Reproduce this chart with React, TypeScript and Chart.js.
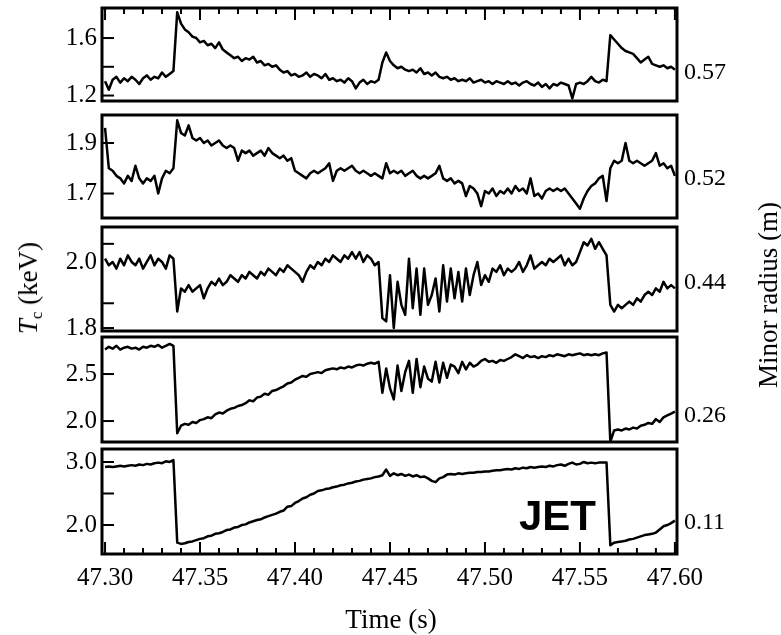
import React, { useEffect, useRef } from "react";
import { Chart, registerables } from "chart.js";

Chart.register(...registerables);

// Sample times (s), 2 ms spacing from 47.300 to 47.600
const TIME_S: number[] = Array.from({ length: 151 }, (_, i) => (47300 + i * 2) / 1000);

// Electron temperature (keV) at each minor radius
const TE_R057 = [
  1.30, 1.24, 1.31, 1.33, 1.29, 1.32, 1.30, 1.33, 1.31, 1.28,
  1.32, 1.34, 1.31, 1.33, 1.32, 1.36, 1.33, 1.35, 1.37, 1.78,
  1.70, 1.66, 1.64, 1.61, 1.60, 1.57, 1.58, 1.55, 1.56, 1.53,
  1.57, 1.52, 1.50, 1.48, 1.46, 1.47, 1.44, 1.46, 1.45, 1.47,
  1.43, 1.44, 1.41, 1.42, 1.40, 1.41, 1.38, 1.36, 1.37, 1.34,
  1.35, 1.33, 1.34, 1.36, 1.33, 1.35, 1.34, 1.32, 1.35, 1.31,
  1.32, 1.30, 1.31, 1.29, 1.32, 1.30, 1.25, 1.29, 1.31, 1.28,
  1.30, 1.29, 1.31, 1.43, 1.50, 1.44, 1.41, 1.39, 1.40, 1.38,
  1.37, 1.38, 1.36, 1.39, 1.35, 1.36, 1.34, 1.36, 1.33, 1.32,
  1.33, 1.31, 1.32, 1.30, 1.31, 1.30, 1.32, 1.29, 1.30, 1.31,
  1.29, 1.30, 1.28, 1.30, 1.29, 1.28, 1.30, 1.28, 1.29, 1.27,
  1.29, 1.30, 1.28, 1.27, 1.29, 1.26, 1.28, 1.25, 1.28, 1.27,
  1.29, 1.28, 1.27, 1.18, 1.28, 1.29, 1.28, 1.30, 1.33, 1.30,
  1.29, 1.31, 1.30, 1.62, 1.59, 1.56, 1.53, 1.51, 1.50, 1.49,
  1.46, 1.43, 1.45, 1.47, 1.42, 1.41, 1.40, 1.41, 1.39, 1.40,
  1.38,
];

const TE_R052 = [
  1.96, 1.80, 1.79, 1.77, 1.76, 1.74, 1.77, 1.75, 1.81, 1.76,
  1.74, 1.76, 1.75, 1.77, 1.70, 1.76, 1.79, 1.78, 1.80, 1.99,
  1.94, 1.93, 1.97, 1.92, 1.91, 1.92, 1.90, 1.91, 1.89, 1.90,
  1.91, 1.89, 1.88, 1.89, 1.88, 1.83, 1.87, 1.86, 1.87, 1.85,
  1.86, 1.87, 1.85, 1.88, 1.86, 1.85, 1.84, 1.85, 1.83, 1.84,
  1.79, 1.78, 1.77, 1.76, 1.78, 1.79, 1.78, 1.79, 1.80, 1.82,
  1.75, 1.79, 1.80, 1.79, 1.80, 1.81, 1.79, 1.78, 1.79, 1.78,
  1.77, 1.78, 1.77, 1.76, 1.82, 1.78, 1.79, 1.78, 1.79, 1.77,
  1.78, 1.79, 1.77, 1.76, 1.77, 1.76, 1.77, 1.78, 1.81, 1.76,
  1.75, 1.76, 1.74, 1.75, 1.74, 1.69, 1.73, 1.72, 1.70, 1.65,
  1.71, 1.70, 1.72, 1.69, 1.71, 1.70, 1.72, 1.70, 1.73, 1.71,
  1.72, 1.70, 1.76, 1.69, 1.70, 1.68, 1.71, 1.72, 1.71, 1.72,
  1.71, 1.72, 1.70, 1.68, 1.66, 1.64, 1.68, 1.71, 1.73, 1.74,
  1.76, 1.77, 1.67, 1.80, 1.83, 1.82, 1.83, 1.90, 1.83, 1.82,
  1.83, 1.82, 1.81, 1.82, 1.83, 1.86, 1.81, 1.82, 1.80, 1.81,
  1.77,
];

const TE_R044 = [
  2.01, 1.99, 2.00, 1.98, 2.01, 1.99, 2.02, 2.00, 1.99, 2.01,
  1.98, 2.00, 2.02, 1.99, 2.01, 2.00, 1.98, 2.02, 2.01, 1.85,
  1.92, 1.91, 1.93, 1.91, 1.92, 1.93, 1.89, 1.92, 1.94, 1.93,
  1.95, 1.93, 1.94, 1.96, 1.95, 1.94, 1.96, 1.95, 1.97, 1.96,
  1.95, 1.97, 1.96, 1.98, 1.97, 1.96, 1.98, 1.97, 1.99, 1.98,
  1.97, 1.96, 1.94, 1.97, 1.99, 1.98, 2.00, 1.99, 2.01, 2.00,
  2.02, 2.01, 2.00, 2.02, 2.01, 2.03, 2.01, 2.03, 2.00, 2.02,
  2.01, 1.99, 2.00, 1.83, 1.82, 1.96, 1.80, 1.94, 1.87, 1.84,
  2.01, 1.86, 1.98, 1.84, 1.98, 1.87, 1.90, 1.95, 1.85, 1.99,
  1.88, 1.98, 1.89, 1.97, 1.88, 1.98, 1.90, 1.96, 2.00, 1.93,
  1.96, 1.94, 1.98, 1.97, 1.99, 1.96, 1.98, 1.97, 1.98, 2.00,
  1.97, 1.99, 2.02, 1.98, 1.99, 2.00, 1.99, 2.01, 2.00, 2.01,
  2.02, 1.99, 2.01, 1.99, 2.00, 2.03, 2.06, 2.05, 2.07, 2.04,
  2.06, 2.04, 2.02, 1.87, 1.85, 1.87, 1.86, 1.87, 1.88, 1.87,
  1.89, 1.88, 1.90, 1.91, 1.90, 1.92, 1.91, 1.94, 1.92, 1.93,
  1.92,
];

const TE_R026 = [
  2.76, 2.79, 2.77, 2.80, 2.76, 2.78, 2.79, 2.77, 2.78, 2.76,
  2.79, 2.78, 2.80, 2.79, 2.81, 2.78, 2.80, 2.82, 2.80, 1.87,
  1.95, 1.97, 1.96, 1.99, 1.98, 2.01, 2.02, 2.04, 2.03, 2.07,
  2.09, 2.08, 2.11, 2.13, 2.14, 2.16, 2.17, 2.19, 2.22, 2.21,
  2.25, 2.26, 2.29, 2.28, 2.32, 2.33, 2.35, 2.37, 2.40, 2.41,
  2.44, 2.46, 2.48, 2.47, 2.50, 2.51, 2.52, 2.51, 2.54, 2.55,
  2.56, 2.55, 2.57, 2.56, 2.58, 2.57, 2.59, 2.60, 2.59, 2.61,
  2.62, 2.61, 2.63, 2.30, 2.56, 2.35, 2.23, 2.59, 2.32, 2.52,
  2.64, 2.30, 2.66, 2.36, 2.58, 2.45, 2.42, 2.63, 2.41, 2.62,
  2.46, 2.60, 2.58, 2.51, 2.63, 2.55, 2.62, 2.58, 2.60, 2.64,
  2.66, 2.63, 2.64, 2.62, 2.65, 2.64, 2.66, 2.68, 2.71, 2.69,
  2.67, 2.70, 2.68, 2.69, 2.67, 2.69, 2.68, 2.70, 2.69, 2.71,
  2.70, 2.69, 2.71, 2.70, 2.71, 2.72, 2.70, 2.71, 2.70, 2.71,
  2.70, 2.72, 2.73, 1.78, 1.90, 1.91, 1.90, 1.92, 1.91, 1.93,
  1.92, 1.95, 1.96, 1.98, 1.97, 2.02, 1.99, 2.04, 2.06, 2.08,
  2.10,
];

const TE_R011 = [
  2.92, 2.93, 2.92, 2.93, 2.94, 2.93, 2.94, 2.95, 2.94, 2.96,
  2.95, 2.97, 2.96, 2.98, 2.99, 2.98, 3.01, 3.00, 3.03, 1.72,
  1.70, 1.71, 1.73, 1.74, 1.76, 1.78, 1.79, 1.82, 1.83, 1.86,
  1.87, 1.89, 1.92, 1.93, 1.96, 1.97, 2.00, 2.01, 2.04, 2.06,
  2.08, 2.09, 2.12, 2.14, 2.16, 2.18, 2.21, 2.23, 2.29, 2.30,
  2.35, 2.38, 2.42, 2.44, 2.48, 2.50, 2.54, 2.55, 2.57, 2.58,
  2.60, 2.61, 2.63, 2.64, 2.66, 2.67, 2.69, 2.70, 2.72, 2.73,
  2.74, 2.76, 2.77, 2.79, 2.88, 2.78, 2.82, 2.79, 2.81, 2.78,
  2.80, 2.77, 2.79, 2.76, 2.77, 2.74, 2.70, 2.68, 2.74, 2.76,
  2.80, 2.81, 2.80, 2.82, 2.81, 2.82, 2.83, 2.83, 2.84, 2.84,
  2.85, 2.85, 2.86, 2.87, 2.87, 2.88, 2.89, 2.88, 2.90, 2.89,
  2.91, 2.90, 2.92, 2.91, 2.92, 2.93, 2.92, 2.94, 2.93, 2.95,
  2.96, 2.94, 2.97, 2.99, 2.96, 2.97, 3.00, 2.98, 2.99, 2.98,
  2.99, 2.99, 2.99, 1.68, 1.72, 1.73, 1.74, 1.75, 1.77, 1.78,
  1.80, 1.82, 1.84, 1.85, 1.86, 1.88, 1.93, 1.98, 2.00, 2.03,
  2.07,
];

const RADIUS_LABELS = ["0.57", "0.52", "0.44", "0.26", "0.11"];
const TIME_TICKS = [47.3, 47.35, 47.4, 47.45, 47.5, 47.55, 47.6];
const Y_TICKS_R057 = [1.2, 1.6];
const Y_MARKS_R057 = [1.2, 1.4, 1.6];
const Y_TICKS_R052 = [1.7, 1.9];
const Y_MARKS_R052 = [1.7, 1.9];
const Y_TICKS_R044 = [1.8, 2.0];
const Y_MARKS_R044 = [1.8, 1.875, 2.055];
const Y_TICKS_R026 = [2.0, 2.5];
const Y_MARKS_R026 = [2.0, 2.5];
const Y_TICKS_R011 = [2.0, 3.0];
const Y_MARKS_R011 = [2.0, 2.5, 3.0];

const X_MIN = 47.2984;
const X_MAX = 47.6011;
const PLOT_LEFT = 102;
const PLOT_RIGHT = 677;
const W = 781;
const PAD = 20;
const SERIF = '"Liberation Serif", "Times New Roman", serif';

type PanelCfg = {
  values: number[];
  yMin: number;
  yMax: number;
  yTicks: number[];
  yMarks: number[];
  top: number;
  bottom: number;
  xTicks: "top" | "bottom" | null;
  showX: boolean;
};

const PANELS: PanelCfg[] = [
  { values: TE_R057, yMin: 1.162, yMax: 1.809, yTicks: Y_TICKS_R057, yMarks: Y_MARKS_R057, top: 8, bottom: 101, xTicks: "top", showX: false },
  { values: TE_R052, yMin: 1.603, yMax: 2.011, yTicks: Y_TICKS_R052, yMarks: Y_MARKS_R052, top: 115, bottom: 218, xTicks: null, showX: false },
  { values: TE_R044, yMin: 1.791, yMax: 2.106, yTicks: Y_TICKS_R044, yMarks: Y_MARKS_R044, top: 227, bottom: 331, xTicks: null, showX: false },
  { values: TE_R026, yMin: 1.777, yMax: 2.894, yTicks: Y_TICKS_R026, yMarks: Y_MARKS_R026, top: 337, bottom: 442, xTicks: null, showX: false },
  { values: TE_R011, yMin: 1.54, yMax: 3.206, yTicks: Y_TICKS_R011, yMarks: Y_MARKS_R011, top: 449, bottom: 554, xTicks: "bottom", showX: true },
];

const X_AXIS_H = 60;

function Panel({ cfg }: { cfg: PanelCfg }) {
  const ref = useRef<HTMLCanvasElement>(null);
  const h = PAD + (cfg.bottom - cfg.top) + (cfg.showX ? X_AXIS_H : PAD);

  useEffect(() => {
    const frame = {
      id: "frame",
      afterDatasetsDraw(chart: any) {
        const { ctx, chartArea, scales } = chart;
        const { left, right, top, bottom } = chartArea;
        ctx.save();
        ctx.strokeStyle = "#000";
        ctx.lineWidth = 2;
        for (const m of cfg.yMarks) {
          const py = scales.y.getPixelForValue(m);
          ctx.beginPath();
          ctx.moveTo(left, py);
          ctx.lineTo(left + 12, py);
          ctx.stroke();
        }
        if (cfg.xTicks) {
          for (let i = 0; i <= 30; i++) {
            const px = scales.x.getPixelForValue(47.3 + i / 100);
            const len = i % 5 === 0 ? 12 : 6;
            ctx.beginPath();
            if (cfg.xTicks === "top") {
              ctx.moveTo(px, top);
              ctx.lineTo(px, top + len);
            } else {
              ctx.moveTo(px, bottom);
              ctx.lineTo(px, bottom - len);
            }
            ctx.stroke();
          }
        }
        ctx.lineWidth = 3;
        ctx.strokeRect(left, top, right - left, bottom - top);
        ctx.restore();
      },
    };

    const chart = new Chart(ref.current as HTMLCanvasElement, {
      type: "line",
      data: {
        datasets: [
          {
            data: TIME_S.map((t, i) => ({ x: t, y: cfg.values[i] })),
            borderColor: "#000",
            borderWidth: 2.5,
            borderJoinStyle: "round",
            pointRadius: 0,
            tension: 0,
            fill: false,
          },
        ],
      },
      options: {
        responsive: false,
        animation: false,
        devicePixelRatio: 1,
        layout: {
          padding: { left: 0, right: W - PLOT_RIGHT, top: PAD, bottom: cfg.showX ? 0 : PAD },
        },
        plugins: { legend: { display: false }, tooltip: { enabled: false } },
        scales: {
          x: {
            type: "linear",
            min: X_MIN,
            max: X_MAX,
            display: cfg.showX,
            grid: { display: false, drawTicks: false },
            border: { display: false },
            afterBuildTicks: (s: any) => {
              s.ticks = TIME_TICKS.map((v) => ({ value: v }));
            },
            afterFit: (s: any) => {
              s.height = cfg.showX ? X_AXIS_H : 0;
            },
            ticks: {
              autoSkip: false,
              maxRotation: 0,
              padding: 9,
              color: "#000",
              font: { family: SERIF, size: 25 },
              callback: (v: any) => Number(v).toFixed(2),
            },
          },
          y: {
            type: "linear",
            min: cfg.yMin,
            max: cfg.yMax,
            grid: { display: false, drawTicks: false },
            border: { display: false },
            afterBuildTicks: (s: any) => {
              s.ticks = cfg.yTicks.map((v) => ({ value: v }));
            },
            afterFit: (s: any) => {
              s.width = PLOT_LEFT;
            },
            ticks: {
              autoSkip: false,
              padding: 5,
              color: "#000",
              font: { family: SERIF, size: 25 },
              callback: (v: any) => Number(v).toFixed(1),
            },
          },
        },
      } as any,
      plugins: [frame],
    });
    return () => chart.destroy();
  }, []);

  return (
    <canvas
      ref={ref}
      width={W}
      height={h}
      style={{ position: "absolute", left: 0, top: cfg.top - PAD, width: W, height: h }}
    />
  );
}

const RADIUS_Y = [71, 177, 281, 414, 521];

export default function App() {
  return (
    <div style={{ position: "absolute", left: 0, top: 0, width: W, height: 635, background: "#fff", overflow: "hidden" }}>
      {PANELS.map((p, i) => (
        <Panel key={i} cfg={p} />
      ))}
      {RADIUS_LABELS.map((r, i) => (
        <div
          key={r}
          style={{ position: "absolute", left: 684, top: RADIUS_Y[i] - 12, fontFamily: SERIF, fontSize: 24, lineHeight: "24px", color: "#000" }}
        >
          {r}
        </div>
      ))}
      <div
        style={{
          position: "absolute", left: 30, top: 288, transform: "translate(-50%, -50%) rotate(-90deg)",
          whiteSpace: "nowrap", fontFamily: SERIF, fontSize: 27, lineHeight: "30px", color: "#000",
        }}
      >
        <i>T</i>
        <span style={{ fontSize: 17, position: "relative", top: 5 }}>c</span> (keV)
      </div>
      <div
        style={{
          position: "absolute", left: 768, top: 295, transform: "translate(-50%, -50%) rotate(-90deg)",
          whiteSpace: "nowrap", fontFamily: SERIF, fontSize: 27, lineHeight: "30px", color: "#000",
        }}
      >
        Minor radius (m)
      </div>
      <div
        style={{
          position: "absolute", left: 391, top: 619, transform: "translate(-50%, -50%)",
          whiteSpace: "nowrap", fontFamily: SERIF, fontSize: 27, lineHeight: "30px", color: "#000",
        }}
      >
        Time (s)
      </div>
      <div
        style={{
          position: "absolute", left: 519, top: 495, fontFamily: '"Liberation Sans", Arial, sans-serif',
          fontWeight: "bold", fontSize: 42, lineHeight: "42px", color: "#000",
        }}
      >
        JET
      </div>
    </div>
  );
}
